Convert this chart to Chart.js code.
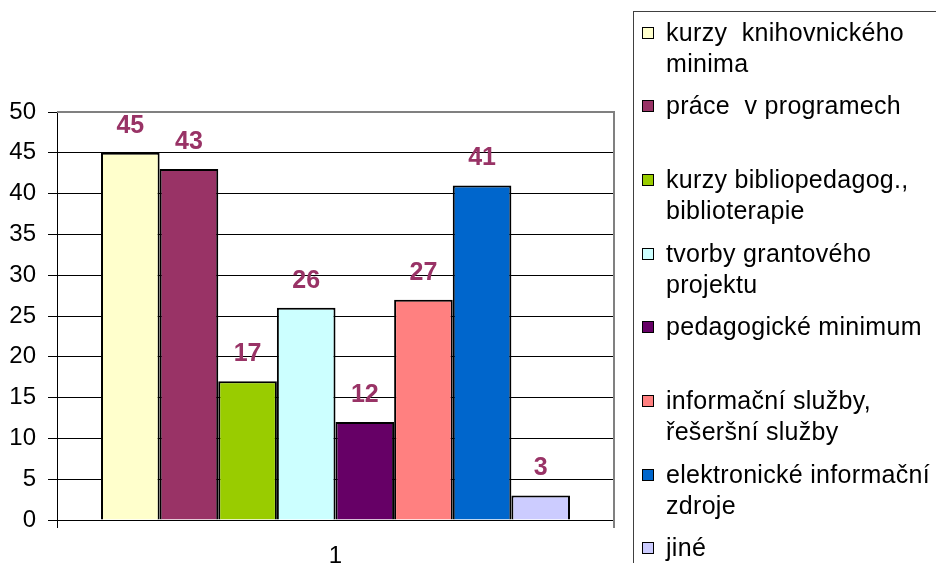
<!DOCTYPE html>
<html>
<head>
<meta charset="utf-8">
<script src="https://cdn.jsdelivr.net/npm/chart.js@4.4.1/dist/chart.umd.min.js"></script>
<style>
  html, body { margin: 0; padding: 0; background: #fff; }
  #wrap { position: relative; width: 936px; height: 563px; overflow: hidden; }
  #chart { position: absolute; left: 0; top: 0; }
  #legend {
    position: absolute; left: 633px; top: 11px; width: 330px; height: 580px;
    border: 1px solid #404040; box-sizing: border-box;
    font-family: "Liberation Sans", Arial, sans-serif; font-size: 25px; color: #000;
  }
  .item { position: absolute; left: 8px; }
  .sw { position: absolute; left: 0; top: 10px; width: 12px; height: 12px; border: 1px solid #000; box-sizing: border-box; }
  .txt { position: absolute; left: 24px; top: 0; line-height: 31px; white-space: pre; letter-spacing: 0.3px; }
</style>
</head>
<body>
<div id="wrap">
  <canvas id="chart" width="936" height="563"></canvas>
  <div id="legend"></div>
</div>
<script>
// ========== DATA ==========
const categories = ['1'];
const seriesNames = [
  ['kurzy  knihovnického', 'minima'],
  ['práce  v programech'],
  ['kurzy bibliopedagog.,', 'biblioterapie'],
  ['tvorby grantového', 'projektu'],
  ['pedagogické minimum'],
  ['informační služby,', 'řešeršní služby'],
  ['elektronické informační', 'zdroje'],
  ['jiné']
];
const seriesValues = [45, 43, 17, 26, 12, 27, 41, 3];
const seriesColors = ['#FFFFCC', '#993366', '#99CC00', '#CCFFFF', '#660066', '#FF8080', '#0066CC', '#CCCCFF'];
const yTicks = [0, 5, 10, 15, 20, 25, 30, 35, 40, 45, 50];

const FONT = '"Liberation Sans", Arial, sans-serif';

// ========== HTML LEGEND ==========
const legendEl = document.getElementById('legend');
seriesNames.forEach((lines, i) => {
  const item = document.createElement('div');
  item.className = 'item';
  item.style.top = (4.5 + i * 73.7) + 'px';
  const sw = document.createElement('div');
  sw.className = 'sw';
  sw.style.background = seriesColors[i];
  const txt = document.createElement('div');
  txt.className = 'txt';
  txt.textContent = lines.join('\n');
  item.appendChild(sw);
  item.appendChild(txt);
  legendEl.appendChild(item);
});

// ========== PLOT FRAME (gray top/right border) ==========
const framePlugin = {
  id: 'frame',
  beforeDatasetsDraw(chart) {
    const { ctx, chartArea: a } = chart;
    ctx.save();
    ctx.strokeStyle = '#808080';
    ctx.lineWidth = 2;
    ctx.beginPath();
    ctx.moveTo(a.left, a.top);
    ctx.lineTo(a.right, a.top);
    ctx.lineTo(a.right, a.bottom + 8);
    ctx.stroke();
    ctx.strokeStyle = '#000';
    ctx.lineWidth = 1;
    ctx.beginPath();
    ctx.moveTo(a.left + 0.5, a.bottom);
    ctx.lineTo(a.left + 0.5, a.bottom + 8);
    ctx.stroke();
    ctx.restore();
  }
};

// ========== VALUE LABELS ==========
const valueLabels = {
  id: 'valueLabels',
  afterDatasetsDraw(chart) {
    const { ctx } = chart;
    ctx.save();
    ctx.font = 'bold 25px ' + FONT;
    ctx.fillStyle = '#993366';
    ctx.textAlign = 'center';
    ctx.textBaseline = 'middle';
    chart.data.datasets.forEach((ds, i) => {
      chart.getDatasetMeta(i).data.forEach((bar, j) => {
        ctx.fillText(String(ds.data[j]), bar.x, bar.y - 27);
      });
    });
    ctx.restore();
  }
};

// ========== CHART ==========
new Chart(document.getElementById('chart'), {
  type: 'bar',
  data: {
    labels: categories,
    datasets: seriesValues.map((v, i) => ({
      label: seriesNames[i].join(' '),
      data: [v],
      backgroundColor: seriesColors[i],
      borderColor: '#000',
      borderWidth: 2,
      categoryPercentage: 0.842,
      barPercentage: 1
    }))
  },
  options: {
    responsive: false,
    animation: false,
    layout: { padding: { top: 112, right: 322, left: 0, bottom: 0 } },
    plugins: {
      legend: { display: false },
      tooltip: { enabled: false }
    },
    scales: {
      y: {
        min: yTicks[0],
        max: yTicks[yTicks.length - 1],
        afterFit: s => { s.width = 57; },
        afterBuildTicks: s => { s.ticks = yTicks.map(v => ({ value: v })); },
        ticks: { color: '#000', padding: 12, font: { size: 24, family: FONT } },
        grid: { color: '#000', tickColor: '#000', tickLength: 9, lineWidth: 1 },
        border: { color: '#000', width: 1 }
      },
      x: {
        afterFit: s => { s.height = 43; },
        ticks: { color: '#000', padding: 14, font: { size: 24, family: FONT } },
        grid: { display: false },
        border: { color: '#000', width: 1 }
      }
    }
  },
  plugins: [framePlugin, valueLabels]
});
</script>
</body>
</html>
